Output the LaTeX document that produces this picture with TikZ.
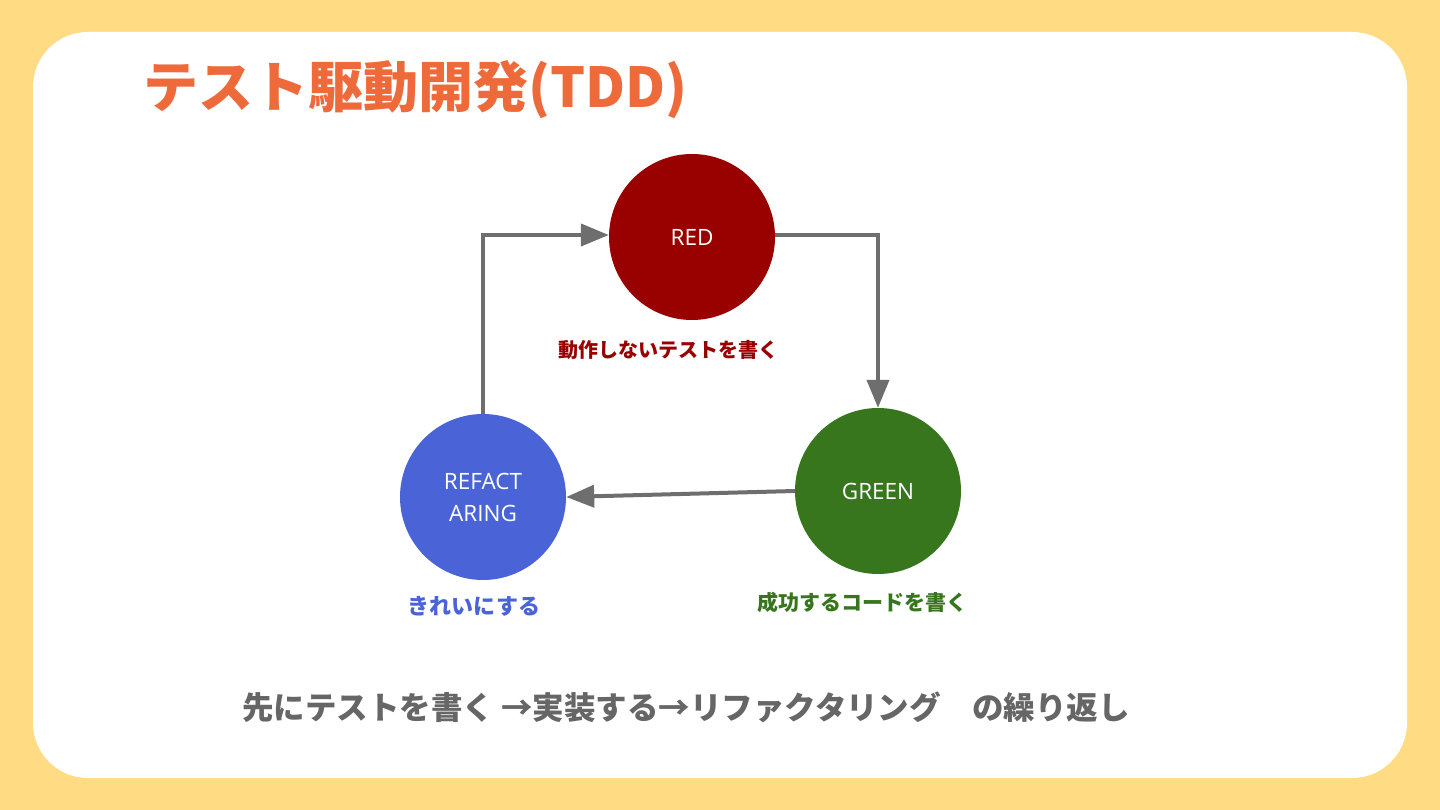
\documentclass[tikz,border=0pt]{standalone}
\usepackage{fontspec}
\setmainfont{Open Sans}
\newfontfamily\cjk{Noto Sans CJK JP}
\usetikzlibrary{arrows.meta}
\definecolor{bgyellow}{HTML}{FFDC84}
\definecolor{titleorange}{HTML}{EE6A3A}
\definecolor{redc}{HTML}{990000}
\definecolor{greenc}{HTML}{38761D}
\definecolor{bluec}{HTML}{4A64D8}
\definecolor{arrowgray}{HTML}{6E6E6E}
\definecolor{textgray}{HTML}{666666}
\tikzset{
  state/.style={circle, minimum size=166pt, inner sep=0pt, text=white, font=\fontsize{22.5}{32}\selectfont, align=center},
  flow/.style={draw=arrowgray, line width=4pt, -{Triangle[length=28pt,width=22pt]}},
  caption/.style={font=\cjk\bfseries\fontsize{20}{24}\selectfont, anchor=center}
}
\begin{document}
\begin{tikzpicture}[x=1pt,y=-1pt]
\useasboundingbox (0,0) rectangle (1440,810);
\fill[bgyellow] (0,0) rectangle (1440,810);
\fill[white, rounded corners=55pt] (33,32) rectangle (1407,778);
\node[font=\cjk\bfseries\fontsize{55}{60}\selectfont, text=titleorange, anchor=west] (title) at (140,90) {テスト駆動開発(TDD)};
\node[state, fill=redc] (red) at (692,237) {RED};
\node[state, fill=greenc] (green) at (878,491) {GREEN};
\node[state, fill=bluec] (refac) at (483,497) {REFACT\\ARING};
\node[caption, text=redc] (redlbl) at (668,350) {動作しないテストを書く};
\node[caption, text=bluec, font=\cjk\bfseries\fontsize{22}{26}\selectfont] (bluelbl) at (474,606) {きれいにする};
\node[caption, text=greenc, font=\cjk\bfseries\fontsize{21}{25}\selectfont] (greenlbl) at (862,602) {成功するコードを書く};
\coordinate (c1) at (483,235);
\coordinate (c2) at (878,235);
\draw[flow] (refac.north) -- (c1) -- (red.west |- c1);
\draw[flow] (red.east |- c2) -- (c2) -- (green.north);
\draw[flow] (green.west) -- (refac.east);
\node[font=\cjk\bfseries\fontsize{31.5}{36}\selectfont, text=textgray] (bottom) at (686,707) {先にテストを書く →実装する→リファクタリング　の繰り返し};
\end{tikzpicture}
\end{document}
